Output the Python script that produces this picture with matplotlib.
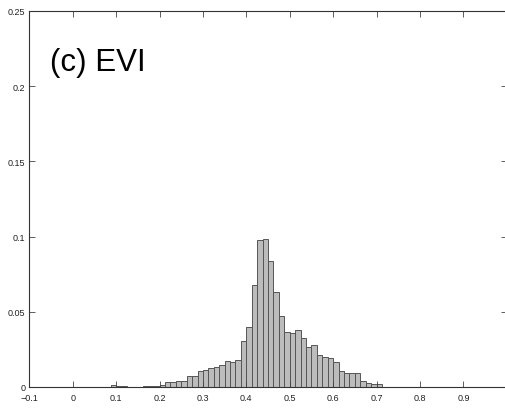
import numpy as np
import matplotlib
matplotlib.use("Agg")
import matplotlib.pyplot as plt

plt.rcParams['font.family'] = ['Liberation Sans', 'DejaVu Sans']

# Histogram of EVI values: bin left edges and relative frequencies
bin_width = 0.0125
bin_left = np.round(0.0875 + bin_width * np.arange(51), 4)
freq = [
    0.0010, 0.0004, 0.0005, 0.0003, 0.0000, 0.0002, 0.0004, 0.0005, 0.0008, 0.0012,
    0.0030, 0.0035, 0.0040, 0.0038, 0.0072, 0.0072, 0.0108, 0.0112,
    0.0127, 0.0136, 0.0147, 0.0176, 0.0167, 0.0180, 0.0308, 0.0400,
    0.0675, 0.0980, 0.0985, 0.0836, 0.0630, 0.0470, 0.0364, 0.0360,
    0.0378, 0.0325, 0.0265, 0.0280, 0.0210, 0.0200, 0.0194, 0.0163,
    0.0105, 0.0090, 0.0090, 0.0090, 0.0039, 0.0028, 0.0017, 0.0023,
    0.0003,
]

x_ticks = [-0.1, 0, 0.1, 0.2, 0.3, 0.4, 0.5, 0.6, 0.7, 0.8, 0.9]
x_ticklabels = ['\u22120.1', '0', '0.1', '0.2', '0.3', '0.4', '0.5', '0.6', '0.7', '0.8', '0.9']
y_ticks = [0, 0.05, 0.1, 0.15, 0.2, 0.25]
y_ticklabels = ['0', '0.05', '0.1', '0.15', '0.2', '0.25']
panel_label = '(c) EVI'

W, H = 505, 410
fig = plt.figure(figsize=(W / 100, H / 100), dpi=100)
ax = fig.add_axes([29.3 / W, 22 / H, 477.5 / W, 376 / H])

ax.bar(bin_left, freq, width=bin_width, align='edge',
       color='#bcbcbc', edgecolor='#555555', linewidth=0.7)

ax.set_xlim(-0.1, 1.0)
ax.set_ylim(0, 0.25)
ax.set_xticks(x_ticks)
ax.set_xticklabels(x_ticklabels)
ax.set_yticks(y_ticks)
ax.set_yticklabels(y_ticklabels)

ax.tick_params(axis='both', direction='in', length=4, width=0.6, color='#444444',
               labelsize=6.5, labelcolor='#222222', top=True, right=True)
ax.tick_params(axis='x', pad=4.5)
ax.tick_params(axis='y', pad=3)
for s in ax.spines.values():
    s.set_linewidth(0.8)
    s.set_color('#333333')

fig.text(50 / W, 1 - 71.5 / H, panel_label, fontsize=22.5, color='black',
         ha='left', va='baseline')

fig.savefig('out.png', dpi=100)
